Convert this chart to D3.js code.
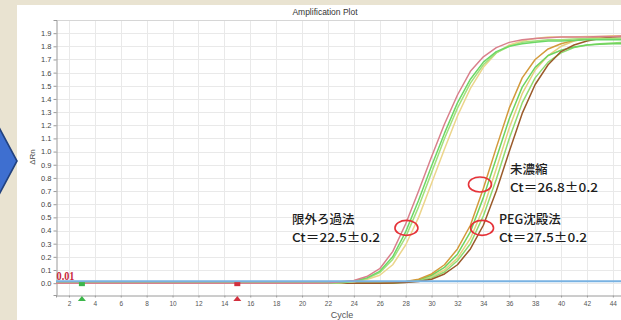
<!DOCTYPE html>
<html>
<head>
<meta charset="utf-8">
<script src="https://cdn.jsdelivr.net/npm/d3@7"></script>
<style>
  html, body { margin: 0; padding: 0; background: #e9e3d1; }
  svg { display: block; }
</style>
</head>
<body>
<svg id="chart" width="621" height="320"></svg>
<script>
// ---- data ---------------------------------------------------------------
const cycles = [1,2,3,4,5,6,7,8,9,10,11,12,13,14,15,16,17,18,19,20,21,22,23,24,25,
                26,27,28,29,30,31,32,33,34,35,36,37,38,39,40,41,42,43,44,45];
const cycleTicks = [2,4,6,8,10,12,14,16,18,20,22,24,26,28,30,32,34,36,38,40,42,44];
const rnTicks = [0.0,0.1,0.2,0.3,0.4,0.5,0.6,0.7,0.8,0.9,1.0,1.1,1.2,1.3,1.4,1.5,1.6,1.7,1.8,1.9];
const thresholdValue = 0.01;
const baselineStart = 3;
const baselineEnd = 15;

// ΔRn per cycle, ultrafiltration (限外ろ過法) wells
const ufWell1 = [0,0,0,0,0,0,0,0,0,0,0,0,0,0,0,0,0,0,0,0,0,0.002,0.01,0.02,0.05,0.11,0.24,0.45,0.70,0.96,1.21,1.43,1.61,1.72,1.79,1.83,1.85,1.86,1.865,1.87,1.87,1.87,1.875,1.875,1.88];
const ufWell2 = [0,0,0,0,0,0,0,0,0,0,0,0,0,0,0,0,0,0,0,0,0,0.001,0.006,0.016,0.04,0.09,0.20,0.39,0.63,0.89,1.14,1.37,1.55,1.68,1.76,1.80,1.82,1.83,1.84,1.84,1.845,1.85,1.85,1.85,1.85];
const ufWell3 = [0,0,0,0,0,0,0,0,0,0,0,0,0,0,0,0,0,0,0,0,0,0,0.004,0.012,0.035,0.08,0.18,0.35,0.58,0.84,1.10,1.33,1.52,1.66,1.75,1.80,1.83,1.84,1.85,1.85,1.855,1.86,1.86,1.86,1.86];
const ufWell4 = [0,0,0,0,0,0,0,0,0,0,0,0,0,0,0,0,0,0,0,0,0,0,0.003,0.01,0.028,0.06,0.14,0.29,0.50,0.76,1.02,1.27,1.48,1.64,1.75,1.81,1.84,1.86,1.87,1.87,1.87,1.875,1.875,1.88,1.88];
// unconcentrated (未濃縮) wells
const ncWell1 = [0,0,0,0,0,0,0,0,0,0,0,0,0,0,0,0,0,0,0,0,0,0,0,0,0,0,0.005,0.012,0.03,0.07,0.14,0.26,0.44,0.72,1.03,1.33,1.56,1.70,1.78,1.82,1.845,1.86,1.87,1.875,1.88];
const ncWell2 = [0,0,0,0,0,0,0,0,0,0,0,0,0,0,0,0,0,0,0,0,0,0,0,0,0,0,0.004,0.01,0.025,0.06,0.12,0.22,0.39,0.65,0.95,1.25,1.49,1.64,1.73,1.77,1.795,1.81,1.815,1.82,1.82];
// PEG precipitation (PEG沈殿法) wells
const pegWell1 = [0,0,0,0,0,0,0,0,0,0,0,0,0,0,0,0,0,0,0,0,0,0,0,0,0,0,0.003,0.008,0.02,0.05,0.10,0.19,0.34,0.57,0.87,1.18,1.44,1.62,1.73,1.80,1.84,1.86,1.87,1.875,1.88];
const pegWell2 = [0,0,0,0,0,0,0,0,0,0,0,0,0,0,0,0,0,0,0,0,0,0,0,0,0,0,0.002,0.006,0.016,0.04,0.085,0.17,0.30,0.51,0.79,1.10,1.37,1.56,1.68,1.75,1.79,1.81,1.82,1.825,1.83];
const pegWell3 = [0,0,0,0,0,0,0,0,0,0,0,0,0,0,0,0,0,0,0,0,0,0,0,0,0,0,0.002,0.005,0.012,0.03,0.07,0.14,0.26,0.44,0.70,1.00,1.29,1.51,1.66,1.76,1.81,1.84,1.86,1.87,1.875];

const wells = [
  { values: pegWell1, color: "#e6cf7e" },
  { values: pegWell2, color: "#8fdc70" },
  { values: ncWell2,  color: "#6fd45f" },
  { values: ncWell1,  color: "#d39a3c" },
  { values: pegWell3, color: "#9a5a2a" },
  { values: ufWell4,  color: "#ecd58c" },
  { values: ufWell3,  color: "#a3e07c" },
  { values: ufWell2,  color: "#6cd866" },
  { values: ufWell1,  color: "#d9808c" }
];

// method labels with their Ct results, and where the red rings sit (cycle, ΔRn)
const methodNames = ["限外ろ過法", "未濃縮", "PEG沈殿法"];
const ctResults = ["Ct＝22.5±0.2", "Ct＝26.8±0.2", "Ct＝27.5±0.2"];
const ringCycles = [28.06, 33.74, 33.9];
const ringValues = [0.42, 0.75, 0.42];

// ---- layout -------------------------------------------------------------
const W = 621, H = 320;
const plot = { left: 56, top: 20, right: 625.8, bottom: 295 };
const labelSpots = [ { x: 292, y: 224 }, { x: 510, y: 174 }, { x: 499, y: 224 } ];

const svg = d3.select("#chart");

svg.append("rect").attr("width", W).attr("height", H).attr("fill", "#e9e3d1");
svg.append("rect").attr("x", 17).attr("y", 5).attr("width", W - 17).attr("height", H - 5).attr("fill", "#ffffff");

// blue pointer on the slide's left edge
svg.append("path")
  .attr("d", "M-22,88 L17,161 L-22,234 Z")
  .attr("fill", "#3e6fd0")
  .attr("stroke", "#22427f")
  .attr("stroke-width", 1.6);

const x = d3.scaleLinear().domain([1, 45]).range([plot.left, plot.right]);
const y = d3.scaleLinear().domain([-0.09, 2.0]).range([plot.bottom, plot.top]);

// grid
const grid = svg.append("g");
grid.selectAll("line.v").data(cycleTicks).join("line")
  .attr("x1", d => Math.round(x(d)) + 0.5).attr("x2", d => Math.round(x(d)) + 0.5)
  .attr("y1", plot.top).attr("y2", plot.bottom)
  .attr("stroke", "#e9e9e9").attr("stroke-width", 1);
grid.selectAll("line.h").data(rnTicks).join("line")
  .attr("x1", plot.left).attr("x2", W)
  .attr("y1", d => Math.round(y(d)) + 0.5).attr("y2", d => Math.round(y(d)) + 0.5)
  .attr("stroke", "#e9e9e9").attr("stroke-width", 1);

// frame top
svg.append("line").attr("x1", plot.left).attr("x2", W).attr("y1", plot.top + 0.5).attr("y2", plot.top + 0.5)
  .attr("stroke", "#d6d6d6");

// axes
const yAxis = svg.append("g")
  .attr("transform", `translate(${plot.left + 0.5},0)`)
  .call(d3.axisLeft(y).tickValues(rnTicks).tickSize(3).tickPadding(2).tickFormat(d3.format(".1f")));
const xAxis = svg.append("g")
  .attr("transform", `translate(0,${plot.bottom + 0.5})`)
  .call(d3.axisBottom(x).tickValues(cycleTicks).tickSize(2).tickPadding(4).tickFormat(d3.format("d")));
[yAxis, xAxis].forEach(g => {
  g.select(".domain").attr("stroke", "#9a9a9a");
  g.selectAll(".tick line").attr("stroke", "#9a9a9a");
});
yAxis.selectAll("text").attr("font-family", "Arial, 'Liberation Sans', sans-serif").attr("font-size", 7.5).attr("fill", "#444");
xAxis.selectAll("text").attr("font-family", "Arial, 'Liberation Sans', sans-serif").attr("font-size", 6.5).attr("fill", "#555");

// curves
svg.append("clipPath").attr("id", "plotClip")
  .append("rect").attr("x", plot.left).attr("y", plot.top)
  .attr("width", plot.right - plot.left).attr("height", plot.bottom - plot.top);

const line = d3.line().x((d, i) => x(cycles[i])).y(d => y(d));
const curves = svg.append("g").attr("clip-path", "url(#plotClip)");
curves.selectAll("path").data(wells).join("path")
  .attr("d", d => line(d.values))
  .attr("fill", "none")
  .attr("stroke", d => d.color)
  .attr("stroke-width", 1.5)
  .attr("stroke-linejoin", "round");

// threshold
curves.append("line")
  .attr("x1", plot.left).attr("x2", plot.right)
  .attr("y1", y(thresholdValue) - 0.5).attr("y2", y(thresholdValue) - 0.5)
  .attr("stroke", "#79b2e2").attr("stroke-width", 2);

svg.append("text")
  .attr("x", plot.left + 0.5).attr("y", y(thresholdValue) - 1.5)
  .attr("font-family", "'Liberation Serif', 'DejaVu Serif', serif")
  .attr("font-size", 12).attr("font-weight", 700).attr("fill", "#c8283c")
  .attr("textLength", 18).attr("lengthAdjust", "spacingAndGlyphs")
  .text(d3.format(".2f")(thresholdValue));

// baseline start / end markers
const markers = [ { c: baselineStart, color: "#3cb64a" }, { c: baselineEnd, color: "#d2303e" } ];
markers.forEach(m => {
  const cx = x(m.c);
  svg.append("rect").attr("x", cx - 3).attr("y", y(0) - 1).attr("width", 6).attr("height", 4).attr("fill", m.color);
  svg.append("path")
    .attr("d", `M${cx - 4},${plot.bottom + 6} L${cx},${plot.bottom + 1} L${cx + 4},${plot.bottom + 6} Z`)
    .attr("fill", m.color);
});

// titles
svg.append("text").attr("x", 325).attr("y", 14.5).attr("text-anchor", "middle")
  .attr("font-family", "Arial, 'Liberation Sans', sans-serif").attr("font-size", 8.5).attr("fill", "#333")
  .text("Amplification Plot");
svg.append("text").attr("x", 342).attr("y", 318).attr("text-anchor", "middle")
  .attr("font-family", "Arial, 'Liberation Sans', sans-serif").attr("font-size", 9).attr("fill", "#555")
  .text("Cycle");
svg.append("text").attr("transform", "translate(34.5,157) rotate(-90)").attr("text-anchor", "middle")
  .attr("font-family", "Arial, 'Liberation Sans', sans-serif").attr("font-size", 8).attr("fill", "#444")
  .text("ΔRn");

// red rings on the curves
ringCycles.forEach((c, i) => {
  svg.append("ellipse")
    .attr("cx", x(c)).attr("cy", y(ringValues[i]))
    .attr("rx", 11.5).attr("ry", 7.5)
    .attr("fill", "none").attr("stroke", "#e53238").attr("stroke-width", 1.6);
});

// method labels: name on the first line, Ct result below it
methodNames.forEach((name, i) => {
  const p = labelSpots[i];
  const t = svg.append("text")
    .attr("font-family", "'Noto Sans CJK JP', sans-serif")
    .attr("font-size", 12).attr("font-weight", 500).attr("fill", "#1d1d1d");
  t.append("tspan").attr("x", p.x).attr("y", p.y)
    .attr("font-size", 12.5).text(name);
  t.append("tspan").attr("x", p.x).attr("y", p.y + 17.8)
    .attr("textLength", 88).attr("lengthAdjust", "spacingAndGlyphs")
    .text(ctResults[i]);
});
</script>
</body>
</html>
